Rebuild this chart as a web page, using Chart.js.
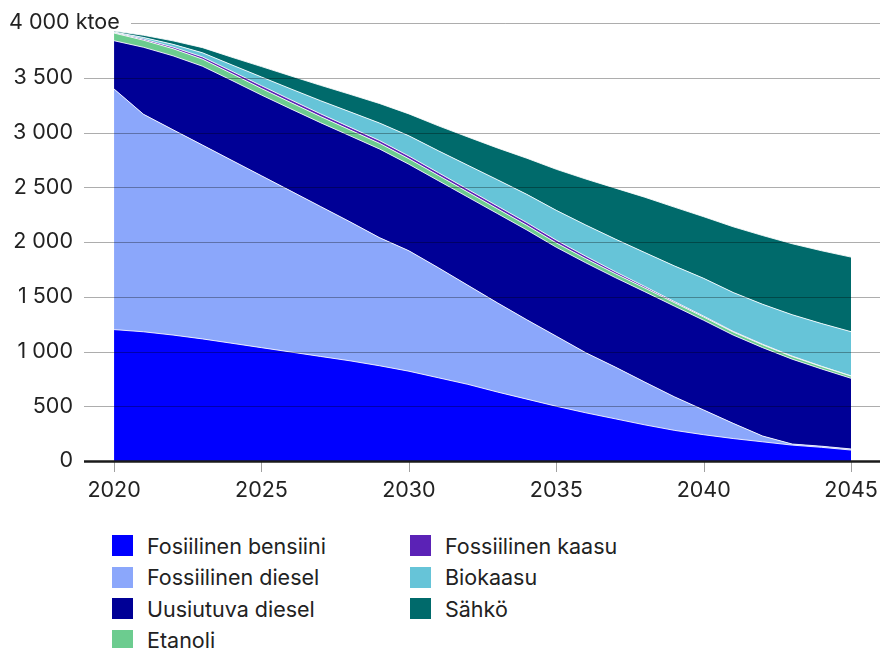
<!DOCTYPE html>
<html lang="fi">
<head>
<meta charset="utf-8">
<title>Liikenteen energiankulutus</title>
<script src="https://cdn.jsdelivr.net/npm/chart.js@4.4.1/dist/chart.umd.min.js"></script>
<style>
  html, body { margin: 0; padding: 0; background: #fff; }
  body { width: 880px; height: 648px; overflow: hidden; font-family: Inter, "Noto Sans", sans-serif; color: #222; }
  .chart-box { position: relative; width: 880px; height: 512px; }
  .legend { position: absolute; left: 112px; top: 530px; display: grid; grid-template-columns: 298px 300px; grid-auto-flow: column; grid-template-rows: repeat(4, 31.5px); }
  .legend div { display: flex; align-items: center; font-size: 21.5px; white-space: nowrap; }
  .legend span { display: inline-block; width: 21px; height: 21px; margin-right: 14px; }
</style>
</head>
<body>
<div class="chart-box"><canvas id="energyChart"></canvas></div>
<div class="legend" id="legend"></div>
<script>
// DATA (ktoe per year)
const years      = [2020, 2021, 2022, 2023, 2024, 2025, 2026, 2027, 2028, 2029, 2030, 2031, 2032,
                    2033, 2034, 2035, 2036, 2037, 2038, 2039, 2040, 2041, 2042, 2043, 2044, 2045];
const bensiini   = [1200, 1180, 1150, 1115, 1075, 1035, 995, 955, 915, 870, 820, 760, 700,
                    630, 565, 500, 440, 385, 330, 280, 240, 205, 175, 145, 125, 100];
const fossDiesel = [2197, 1986, 1875, 1770, 1670, 1570, 1470, 1370, 1270, 1170, 1100, 1005, 905,
                    815, 725, 640, 549, 473, 391, 307, 226, 139, 53, 10, 10, 10];
const uusiDiesel = [441, 612, 675, 720, 730, 737, 750, 765, 785, 810, 790, 795, 805,
                    815, 820, 812, 821, 817, 825, 828, 819, 806, 807, 775, 705, 645];
const etanoli    = [70, 65, 65, 65, 62, 60, 58, 56, 54, 52, 50, 48, 46,
                    44, 42, 40, 38, 36, 34, 32, 30, 28, 26, 24, 22, 20];
const fossKaasu  = [5, 10, 15, 20, 22, 25, 25, 25, 25, 25, 25, 25, 25,
                    25, 25, 25, 22, 18, 14, 10, 8, 6, 5, 4, 3, 2];
const biokaasu   = [5, 15, 25, 38, 58, 80, 100, 120, 140, 160, 185, 200, 220,
                    240, 258, 272, 285, 298, 310, 325, 345, 355, 365, 378, 390, 404];
const sahko      = [8, 20, 32, 47, 70, 95, 118, 140, 160, 178, 200, 228, 258,
                    290, 330, 375, 420, 465, 505, 537, 563, 600, 628, 648, 665, 681];

const xTicks = [2020, 2025, 2030, 2035, 2040, 2045];
const yTicks = [0, 500, 1000, 1500, 2000, 2500, 3000, 3500, 4000];

const seriesNames  = ['Fosiilinen bensiini', 'Fossiilinen diesel', 'Uusiutuva diesel', 'Etanoli',
                      'Fossiilinen kaasu', 'Biokaasu', 'Sähkö'];
const seriesValues = [bensiini, fossDiesel, uusiDiesel, etanoli, fossKaasu, biokaasu, sahko];
const seriesColors = ['#0000ff', '#8ba7fb', '#000096', '#6ccc8f', '#5b22b6', '#66c4d8', '#006a6b'];

const FONT = 'Inter, "Noto Sans", sans-serif';
const fmt = v => String(v).replace(/\B(?=(\d{3})+(?!\d))/g, ' ');

// grid lines on top of the areas, y labels, zero line, x tick marks
const overlayPlugin = {
    id: 'overlay',
    afterDatasetsDraw(chart) {
        const { ctx, chartArea, scales } = chart;
        const y = scales.y, x = scales.x;
        ctx.save();
        yTicks.forEach(v => {
            if (v === 0) return;
            const py = Math.round(y.getPixelForValue(v)) + 0.5;
            ctx.strokeStyle = 'rgba(0,0,0,0.32)';
            ctx.lineWidth = 1;
            ctx.beginPath();
            ctx.moveTo(v === 4000 ? 131 : chartArea.left, py);
            ctx.lineTo(chartArea.right, py);
            ctx.stroke();
        });
        // x tick marks, then zero line
        const y0 = y.getPixelForValue(0);
        ctx.strokeStyle = '#a0a0a0';
        ctx.lineWidth = 1;
        xTicks.forEach(t => {
            const px = Math.round(x.getPixelForValue(t)) + 0.5;
            ctx.beginPath();
            ctx.moveTo(px, y0);
            ctx.lineTo(px, y0 + 11);
            ctx.stroke();
        });
        ctx.strokeStyle = '#1a1a1a';
        ctx.lineWidth = 2.5;
        ctx.beginPath();
        ctx.moveTo(chartArea.left, y0 + 0.5);
        ctx.lineTo(chartArea.right, y0 + 0.5);
        ctx.stroke();
        // y labels
        ctx.fillStyle = '#222';
        ctx.font = '21.5px ' + FONT;
        ctx.textBaseline = 'middle';
        yTicks.forEach(v => {
            const py = y.getPixelForValue(v);
            if (v === 4000) {
                ctx.textAlign = 'left';
                ctx.fillText(fmt(v) + ' ktoe', 9, py);
            } else {
                ctx.textAlign = 'right';
                ctx.fillText(fmt(v), 73, py);
            }
        });
        ctx.restore();
    }
};

const datasets = seriesNames.map((name, i) => ({
    label: name,
    data: years.map((yr, j) => ({ x: yr, y: seriesValues[i][j] })),
    backgroundColor: seriesColors[i],
    borderColor: 'rgba(255,255,255,0.85)',
    borderWidth: 1,
    pointRadius: 0,
    tension: 0,
    fill: i === 0 ? 'origin' : '-1'
}));

new Chart(document.getElementById('energyChart'), {
    type: 'line',
    data: { datasets },
    options: {
        responsive: true,
        maintainAspectRatio: false,
        animation: false,
        layout: { padding: { top: 23, left: 84, right: 0, bottom: 0 } },
        plugins: { legend: { display: false }, tooltip: { enabled: false } },
        scales: {
            x: {
                type: 'linear',
                min: 2018.98,
                max: 2045.98,
                grid: { display: false },
                border: { display: false },
                afterBuildTicks: scale => { scale.ticks = xTicks.map(v => ({ value: v })); },
                afterFit: scale => {
                    scale.height = 51;
                    scale.paddingLeft = 0;
                    scale.paddingRight = 0;
                },
                ticks: {
                    autoSkip: false,
                    maxRotation: 0,
                    padding: 9,
                    color: '#222',
                    font: { family: FONT, size: 21.5 },
                    callback: v => String(v)
                }
            },
            y: {
                display: false,
                stacked: true,
                min: 0,
                max: 4000
            }
        }
    },
    plugins: [overlayPlugin]
});

// legend, two columns
const legend = document.getElementById('legend');
seriesNames.forEach((name, i) => {
    const item = document.createElement('div');
    item.innerHTML = `<span style="background:${seriesColors[i]}"></span>${name}`;
    legend.appendChild(item);
});
</script>
</body>
</html>
